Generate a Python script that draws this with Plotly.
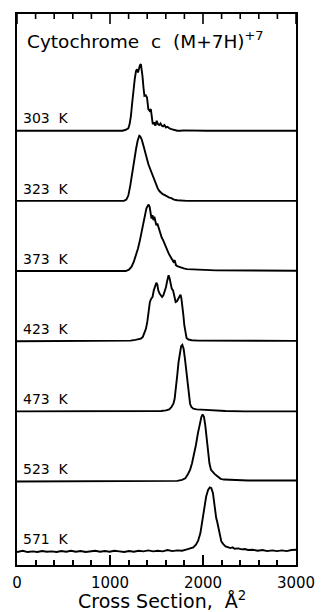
import plotly.graph_objects as go

temps = ["303 K", "323 K", "373 K", "423 K", "473 K", "523 K", "571 K"]

x_303 = [0, 996, 1135, 1169, 1197, 1211, 1225, 1239, 1252, 1266, 1280, 1291, 1301, 1311, 1322, 1332, 1339, 1349, 1360, 1370,
         1384, 1398, 1412, 1426, 1439, 1450, 1460, 1474, 1488, 1502, 1515, 1529, 1543, 1557, 1571, 1585, 1602, 1619, 1640, 1661,
         1688, 1723, 1758, 1793, 2034, 3000]
i_303 = [0, 0, 0, 1.4, 3.3, 9.5, 21.3, 40.3, 59.3, 73.5, 85.3, 87.7, 83, 90, 93.4, 94.8, 90, 78.2, 61.6, 49.8,
         50.7, 47.4, 30.8, 28.4, 30.8, 19, 9.5, 11.9, 7.1, 14.2, 9.5, 8.1, 10.4, 7.1, 6.2, 8.1, 4.7, 5.7, 3.3, 2.4,
         1.4, 0, 0, 0.5, 0, 0]

x_323 = [0, 1149, 1176, 1197, 1218, 1239, 1259, 1280, 1297, 1315, 1325, 1342, 1360, 1377, 1394, 1412, 1429, 1446, 1463, 1481,
         1498, 1515, 1533, 1550, 1567, 1585, 1602, 1619, 1637, 1654, 1671, 1688, 1723, 1758, 1827, 3000]
i_323 = [0, 0, 1.9, 7.6, 21.8, 40.8, 59.7, 74, 85.8, 92.9, 92, 87.2, 78.7, 69.2, 59.7, 52.6, 46.5, 40.8, 33.7, 26.5,
         21.8, 17.1, 13.7, 11.4, 9.5, 8.5, 7.1, 6.2, 4.7, 4.3, 2.8, 1.9, 0.9, 0.5, 0, 0]

x_373 = [0, 1169, 1204, 1232, 1256, 1280, 1301, 1322, 1342, 1360, 1377, 1391, 1405, 1415, 1426, 1436, 1446, 1457, 1467, 1477,
         1488, 1498, 1509, 1519, 1529, 1543, 1557, 1571, 1585, 1599, 1612, 1626, 1640, 1654, 1668, 1682, 1695, 1709, 1723, 1740,
         1758, 1793, 1827, 1879, 1965, 2138, 3000]
i_373 = [0, 0, 1.9, 6.2, 13.3, 22.8, 32.2, 44.1, 58.3, 72.5, 84.4, 89.1, 92.9, 94.8, 91.5, 84.4, 74.9, 79.6, 72.5, 77.3,
         70.2, 65.4, 67.8, 63, 58.3, 51.2, 47.4, 44.1, 39.3, 33.2, 29.9, 26.5, 22.8, 19, 17.1, 13.3, 15.6, 8.5, 7.1, 6.2,
         4.7, 3.8, 2.8, 2.4, 1.9, 1.0, 0.5]

x_423 = [0, 1152, 1221, 1273, 1308, 1332, 1353, 1370, 1387, 1401, 1415, 1429, 1443, 1457, 1471, 1484, 1498, 1509, 1519, 1533,
         1547, 1560, 1574, 1588, 1602, 1616, 1630, 1640, 1650, 1664, 1678, 1692, 1706, 1720, 1733, 1747, 1758, 1768, 1778, 1789,
         1799, 1810, 1823, 1844, 1879, 1948, 2190, 3000]
i_423 = [0, 0, 0.9, 1.9, 2.8, 3.8, 6.2, 10.9, 18, 27.5, 41.7, 55.9, 60.7, 63, 72.5, 79.6, 83.4, 80.6, 72.5, 67.8,
         65.4, 63, 65.4, 70.2, 77.3, 86.7, 93.9, 90.1, 82, 74.9, 72.5, 63, 55.9, 56.9, 60.7, 65.4, 66.4, 60.7, 51.2, 37,
         22.8, 10.9, 4.7, 2.4, 1.4, 0.9, 0.9, 0.5]

x_473 = [0, 1412, 1550, 1602, 1637, 1661, 1682, 1695, 1709, 1723, 1737, 1751, 1765, 1778, 1792, 1806, 1820, 1834, 1848, 1861,
         1875, 1896, 1931, 1983, 2017, 2052, 2086, 2138, 2242, 2450, 3000]
i_473 = [0, 0, 0.5, 1.4, 2.8, 6.2, 10.9, 18, 32.2, 51.2, 70.2, 84.4, 92.9, 94.8, 89.1, 74.9, 55.9, 37, 20.4, 10.9,
         6.2, 3.8, 2.8, 2.4, 1.9, 2.4, 1.4, 0.9, 0.5, 0, 0]

x_523 = [0, 1619, 1723, 1775, 1810, 1834, 1861, 1882, 1903, 1924, 1945, 1965, 1983, 1996, 2010, 2024, 2038, 2052, 2069, 2086,
         2104, 2124, 2145, 2166, 2190, 2225, 2277, 2346, 2484, 2657, 3000]
i_523 = [0, 0, 0.9, 2.4, 4.7, 9.5, 16.6, 26.1, 37.9, 52.1, 68.7, 83, 92.4, 95.7, 92.4, 80.6, 61.6, 42.7, 26.1, 16.6,
         13.3, 10.9, 8.5, 5.7, 3.8, 2.8, 2.4, 1.9, 1.4, 1.4, 1.4]

x_571 = [0, 62, 114, 171, 218, 270, 322, 374, 426, 477, 529, 581, 633, 685, 737, 789, 841, 893, 945, 996,
         1048, 1100, 1152, 1204, 1256, 1308, 1360, 1412, 1464, 1515, 1567, 1619, 1671, 1723, 1775, 1827, 1861, 1896, 1924, 1948,
         1972, 1993, 2014, 2034, 2055, 2073, 2090, 2107, 2121, 2131, 2142, 2152, 2166, 2180, 2197, 2218, 2242, 2266, 2294, 2318,
         2339, 2380, 2415, 2450, 2484, 2536, 2588, 2640, 2692, 2744, 2796, 2848, 2900, 2951, 3000]
i_571 = [-0.5, 1.4, -0.5, 0.5, -0.5, 0.9, 0, 0.5, -0.5, 0.9, 0, 1.4, 0, 0.9, -0.5, 0.5, 1.4, 0, 0.9, 0,
         1.4, 0.5, -0.5, 0.9, 0, 1.4, 0.5, 1.9, 0.5, 1.4, 0.5, 2.4, 0.9, 1.9, 1.4, 3.3, 4.3, 6.2, 10, 15.6,
         26.5, 43.1, 62.1, 78.7, 88.2, 91.5, 90.5, 83.4, 69.2, 57.4, 47.9, 43.1, 33.7, 21.8, 14.7, 10.9, 7.6, 6.6, 5.2, 6.2,
         4.3, 4.7, 3.3, 3.8, 2.4, 2.8, 1.4, 2.4, 0.9, 1.9, 0.9, 1.9, 0.9, 2.4, 2.8]

xs = [x_303, x_323, x_373, x_423, x_473, x_523, x_571]
ints = [i_303, i_323, i_373, i_423, i_473, i_523, i_571]

x_ticks = [0, 1000, 2000, 3000]
minor_step = 200
x_range = [0, 3000]
spacing = 100
y_range = [-18.96, 766.4]

FONT = "DejaVu Sans"
PLOT_H = 612 - 13 - 47

fig = go.Figure()
n = len(temps)
for k, (t, xv, iv) in enumerate(zip(temps, xs, ints)):
    off = (n - 1 - k) * spacing
    fig.add_trace(go.Scatter(x=xv, y=[v + off for v in iv], mode="lines",
                             line=dict(color="black", width=1.9), showlegend=False,
                             hoverinfo="skip"))
    fig.add_annotation(x=42, y=off + 17.5, xref="x", yref="y", xanchor="left", yanchor="middle",
                       text=t.replace(" ", "\u00a0\u00a0"), showarrow=False,
                       font=dict(family=FONT, size=14, color="black"))

# mirrored tick marks along the top edge of the frame (same positions as the bottom axis ticks)
for tv in range(x_range[0], x_range[1] + 1, minor_step):
    tl = 10 if tv in x_ticks else 5
    fig.add_shape(type="line", xref="x", yref="paper", x0=tv, x1=tv, y0=1, y1=1 - tl / PLOT_H,
                  line=dict(color="black", width=1.6))

fig.add_annotation(x=85, y=730, xref="x", yref="y", xanchor="left", yanchor="middle",
                   text="Cytochrome\u00a0\u00a0c\u00a0\u00a0(M+7H)<sup>+7</sup>", showarrow=False,
                   font=dict(family=FONT, size=18.5, color="black"))

fig.add_annotation(x=0.52, y=-0.064, xref="paper", yref="paper", xanchor="center", yanchor="middle",
                   text="Cross\u00a0Section,\u00a0\u00a0Å<sup>2</sup>", showarrow=False,
                   font=dict(family=FONT, size=19, color="black"))

fig.update_layout(
    width=327, height=612,
    margin=dict(l=14, r=24, t=13, b=47),
    paper_bgcolor="white", plot_bgcolor="white",
    showlegend=False,
    xaxis=dict(range=x_range, showline=True, linewidth=2, linecolor="black", mirror=True,
               ticks="inside", ticklen=10, tickwidth=1.6, tickcolor="black",
               tickmode="array", tickvals=x_ticks, showgrid=False, zeroline=False,
               minor=dict(ticks="inside", ticklen=5, tickwidth=1.6, tickcolor="black",
                          tickmode="linear", dtick=minor_step, tick0=0, showgrid=False),
               ticklabelstandoff=3,
               tickfont=dict(family=FONT, size=15, color="black")),
    yaxis=dict(range=y_range, showline=True, linewidth=2, linecolor="black", mirror=True,
               ticks="", showticklabels=False, showgrid=False, zeroline=False),
)

fig.write_html("out.html")
